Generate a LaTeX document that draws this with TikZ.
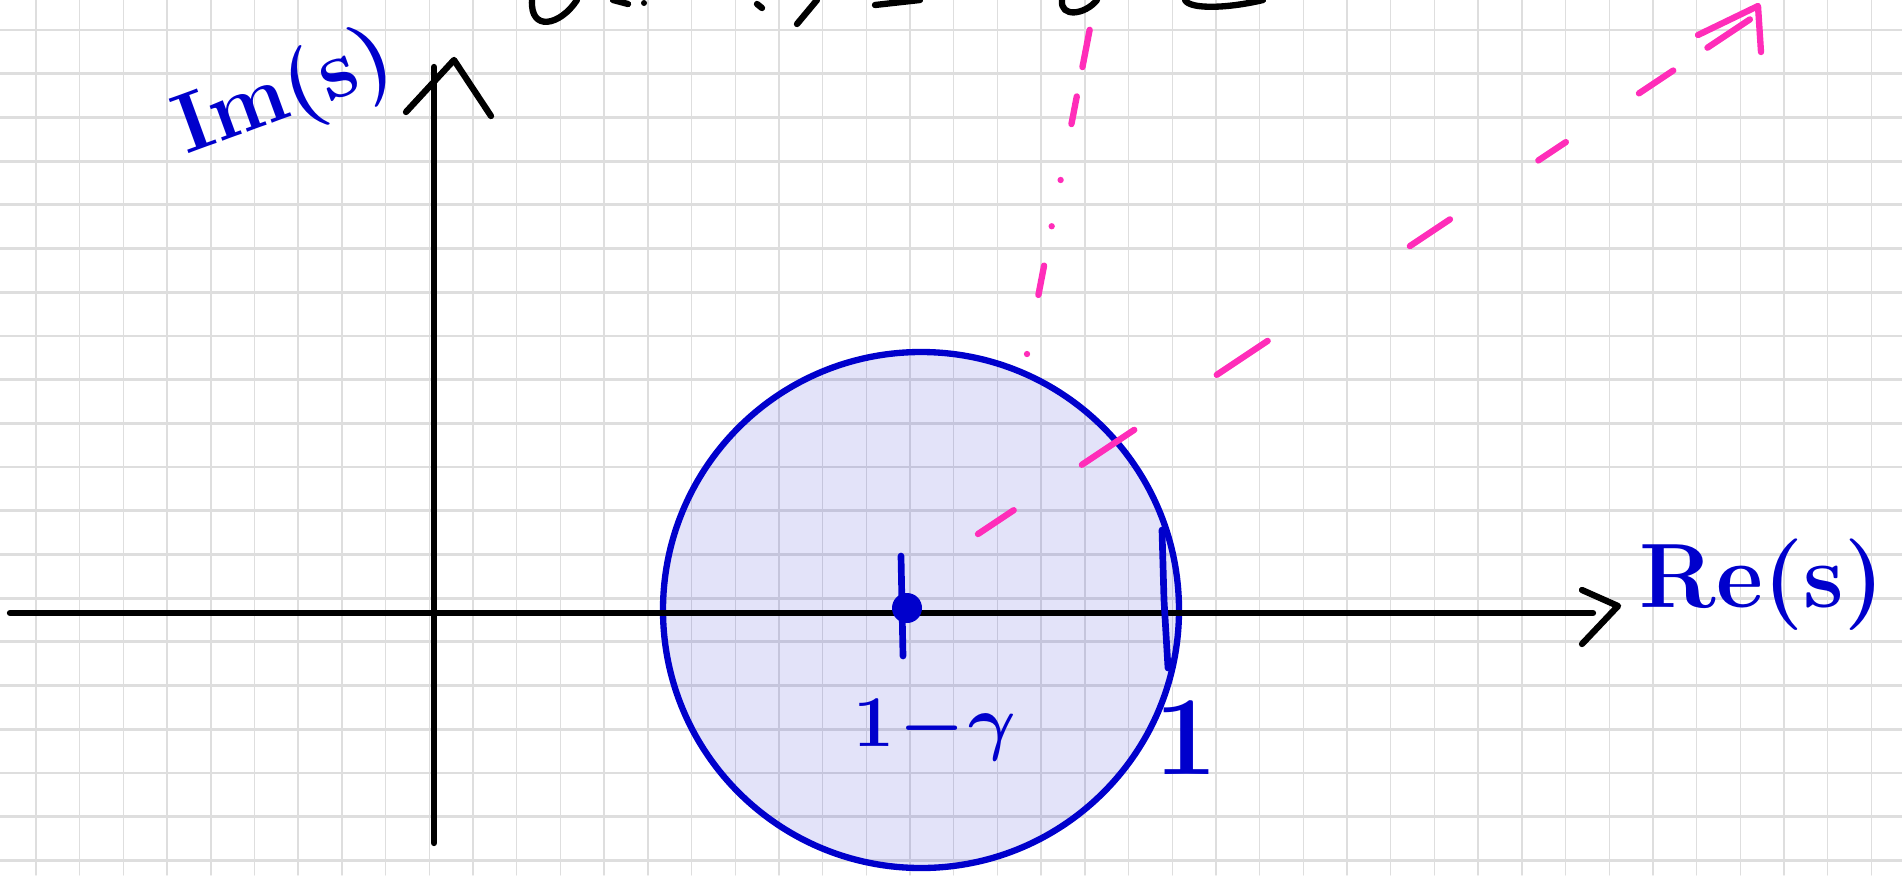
\documentclass[tikz,border=0pt]{standalone}
\usetikzlibrary{positioning}
\definecolor{penblue}{RGB}{0,0,204}
\definecolor{penpink}{RGB}{255,45,185}
\definecolor{gridgray}{RGB}{222,222,222}

\begin{document}
\begin{tikzpicture}[
    x=0.01cm, y=-0.01cm,
    line cap=round, line join=round,
    gridv/.style={draw=gridgray,line width=0.4pt},
    gridh/.style={draw=gridgray,line width=0.8pt},
    axis/.style={draw=black,line width=1.8pt},
    pen/.style={draw=penblue,line width=1.8pt},
    disc/.style={pen,fill=penblue,fill opacity=0.11},
    hand/.style={text=penblue,inner sep=0pt,font=\fontsize{26}{30}\selectfont\bfseries},
    pinkline/.style={draw=penpink,line width=1.8pt},
    raydash/.style={pinkline,dash pattern=on 12.2pt off 23.3pt on 17.9pt off 28.2pt on 17.4pt off 48.6pt on 13.7pt off 30.2pt on 9.4pt off 25pt on 11.7pt off 11.7pt on 14.5pt off 20pt},
    linedash/.style={pinkline,dash pattern=on 0pt off 17.1pt on 8.5pt off 11.4pt on 0pt off 13.4pt on 0pt off 16.2pt on 8pt off 8.5pt on 10.8pt off 20pt},
    scrawl/.style={draw=black,line width=1.8pt}
  ]
    \useasboundingbox (0,0) rectangle (1902,875);
    % paper grid
    \foreach \k in {0,...,42}
      \draw[gridv] ({36+43.7*\k},0) -- ({36+43.7*\k},875);
    \foreach \k in {0,...,19}
      \draw[gridh] (0,{30+43.7*\k}) -- (1902,{30+43.7*\k});

    % disc around 1-gamma
    \coordinate (ctr) at (921,610);
    \draw[disc] (ctr) circle[radius=258];

    % axes
    \coordinate (xl) at (10,613);
    \coordinate (xr) at (1593,613);
    \coordinate (yb) at (434,843);
    \coordinate (yt) at (434,67);
    \draw[axis] (xl) -- (xr);
    \draw[axis] (yb) -- (yt);
    \draw[axis] (1582,590) -- (1618,606) -- (1582,644);
    \draw[axis] (406,112) -- (454,60) -- (491,116);

    % labels
    \node[hand] (relabel) at (1762,585) {Re(s)};
    \node[hand,font=\fontsize{24}{28}\selectfont\bfseries,rotate=20] (imlabel) at (285,96) {Im(s)};
    \node[hand,font=\fontsize{20}{24}\selectfont\boldmath] (gamlabel) at (935,730) {$1\!-\!\gamma$};
    \node[hand,font=\fontsize{32}{36}\selectfont\bfseries] (onelabel) at (1186,738) {1};

    % ticks on the real axis
    \draw[pen,line width=1.9pt] (901,556) -- (903,656);
    \fill[penblue] (907,608) circle[radius=15];
    \draw[pen,line width=1.9pt] (1162,530) -- (1164,600) -- (1168,668);

    % pink lines
    \coordinate (ra) at (978,534);
    \coordinate (rb) at (1752,18);
    \draw[raydash] (ra) -- (rb);
    \draw[pinkline] (1698,35) -- (1758,6) -- (1761,52);
    \coordinate (la) at (1027,354);
    \coordinate (lb) at (1090,28);
    \draw[linedash] (la) -- (lb);

    % cut-off writing at the top
    \draw[scrawl] (532,0) .. controls (530,32) and (560,26) .. (577,0);
    \draw[scrawl] (613,0) -- (628,4);
    \fill (644,3) circle[radius=3];
    \draw[scrawl] (757,4) -- (762,8);
    \draw[scrawl] (817,0) -- (797,24);
    \draw[scrawl] (875,5) -- (920,0);
    \draw[scrawl] (1062,0) .. controls (1060,18) and (1085,15) .. (1097,0);
    \draw[scrawl] (1185,0) .. controls (1190,10) and (1230,8) .. (1263,0);
\end{tikzpicture}
\end{document}
